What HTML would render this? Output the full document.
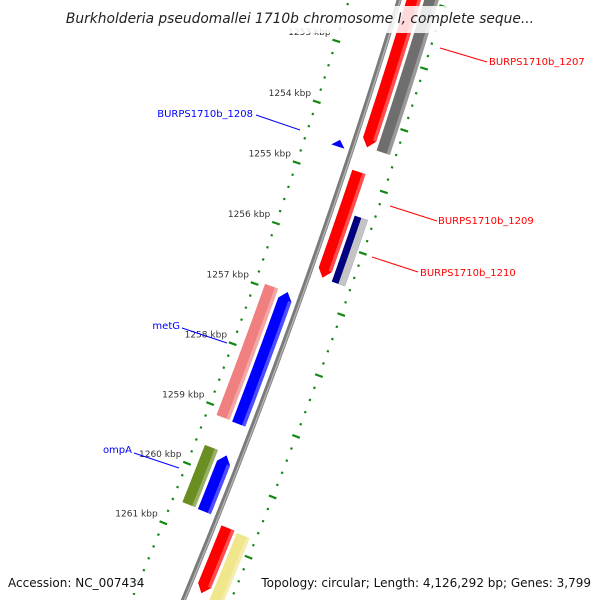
<!DOCTYPE html>
<html><head><meta charset="utf-8"><style>
html,body{margin:0;padding:0;background:#fff;width:600px;height:600px;overflow:hidden;}
#wrap{position:relative;width:600px;height:600px;overflow:hidden;font-family:"DejaVu Sans","Liberation Sans",sans-serif;}
svg{position:absolute;left:0;top:0;}
.title{position:absolute;left:62px;top:6px;width:476px;height:27px;background:rgba(255,255,255,0.85);text-align:center;font-style:italic;font-size:13.8px;line-height:26px;color:#222;white-space:nowrap;overflow:hidden;}
.foot{position:absolute;top:573px;height:20px;background:rgba(255,255,255,0.85);font-size:12px;line-height:20px;color:#111;white-space:nowrap;}
</style></head><body>
<div id="wrap">
<svg id="map" width="600" height="600" viewBox="0 0 600 600" overflow="hidden"></svg>
<div class="title">Burkholderia pseudomallei 1710b chromosome I, complete seque...</div>
<div class="foot" style="left:8px;">Accession: NC_007434</div>
<div class="foot" style="right:9px;">Topology: circular; Length: 4,126,292 bp; Genes: 3,799</div>
</div>
<script>
// data (kbp)
const featNames  = ["BURPS1710b_1207","BURPS1710b_1207-cog","BURPS1710b_1208","BURPS1710b_1209","BURPS1710b_1210","metG-cog","metG","ompA-cog","ompA","next-cds","next-cog"];
const featStart  = [1251.0,1251.0,1254.45,1254.83,1255.49,1256.95,1256.95,1259.63,1259.66,1260.70,1260.72];
const featEnd    = [1254.43,1254.43,1254.56,1256.56,1256.57,1259.13,1259.14,1260.59,1260.60,1261.79,1262.40];
const featStrand = [1,1,-1,1,1,-1,-1,-1,-1,1,1];
const featTrack  = [1,2,1,1,2,2,1,2,1,1,2];
const featColor  = ["#ff0000","#6e6e6e","#0000ff","#ff0000","#000080","#f08080","#0000ff","#6b8e23","#0000ff","#ff0000","#f0e68c"];
const featArrow  = [1,0,1,1,0,0,1,0,1,1,0];
const tickFrom = 1251, tickTo = 1262.4, tickStep = 0.2;
const tickLabels = ["1253 kbp","1254 kbp","1255 kbp","1256 kbp","1257 kbp","1258 kbp","1259 kbp","1260 kbp","1261 kbp"];
const tickLabelKbp = [1253,1254,1255,1256,1257,1258,1259,1260,1261];

const NS="http://www.w3.org/2000/svg";
const svg=document.getElementById('map');
const R=6430, CX=-5752, CY=-1873, A0=108.6*Math.PI/180, PX=64.5;
function pt(k,off){const a=A0+(k-1255)*PX/R;const r=R+off;return [CX+r*Math.sin(a),CY-r*Math.cos(a)];}
function mk(tag,attrs){const e=document.createElementNS(NS,tag);for(const k in attrs)e.setAttribute(k,attrs[k]);svg.appendChild(e);return e;}
function arcPts(k1,k2,off){const n=Math.max(2,Math.ceil(Math.abs(k2-k1)*4));const out=[];for(let i=0;i<=n;i++){out.push(pt(k1+(k2-k1)*i/n,off));}return out;}

// ticks
const nT=Math.round((tickTo-tickFrom)/tickStep);
for(let i=0;i<=nT;i++){
  const k=tickFrom+i*tickStep;
  const major=Math.abs(k-Math.round(k))<1e-6;
  [-48,44].forEach(function(off){
    const h=major?4:1.1;
    const p1=pt(k,off-h),p2=pt(k,off+h);
    const l=mk('line',{x1:p1[0],y1:p1[1],x2:p2[0],y2:p2[1],stroke:'#118811','stroke-width':2.2});
    
    
  });
}
tickLabels.forEach(function(t,i){
  const p=pt(tickLabelKbp[i],-54);
  const tx=mk('text',{x:p[0],y:p[1]-4,'text-anchor':'end','font-size':'9','font-family':'DejaVu Sans, Liberation Sans, sans-serif',fill:'#333'});
  tx.textContent=t;
  
  
});

// backbone
const b1=mk('polyline',{points:arcPts(1250,1263,0).map(p=>p.join(',')).join(' '),fill:'none',stroke:'#7a7a7a','stroke-width':5});


const b2=mk('polyline',{points:arcPts(1250,1263,1).map(p=>p.join(',')).join(' '),fill:'none',stroke:'#b0b0b0','stroke-width':1.5});



// features
featNames.forEach(function(nm,i){
  const s=featStrand[i], tr=featTrack[i];
  const center=s*(tr===1?14:31);
  const w=14, inner=center-w/2, outer=center+w/2;
  let k1=featStart[i],k2=featEnd[i];
  const ah=0.13;
  let poly=[];
  if(featArrow[i]){
    if(s>0){
      const kb=Math.max(k1,k2-ah);
      poly=arcPts(k1,kb,inner).concat([pt(k2,center)]).concat(arcPts(kb,k1,outer));
    }else{
      const kb=Math.min(k2,k1+ah);
      poly=[pt(k1,center)].concat(arcPts(kb,k2,inner)).concat(arcPts(k2,kb,outer));
    }
  }else{
    poly=arcPts(k1,k2,inner).concat(arcPts(k2,k1,outer));
  }
  const g=mk('polygon',{points:poly.map(p=>p.join(',')).join(' '),fill:featColor[i]});
  
  
  const so=outer-3.5;
  const kA=featArrow[i]&&s<0?k1+ah:k1, kB=featArrow[i]&&s>0?k2-ah:k2;
  let stripeColor='rgba(255,255,255,0.3)';
  if(featColor[i]==='#000080') stripeColor='#c4c4c4';
  const sp=arcPts(kA,kB,so-(featColor[i]==='#000080'?3.5:0)).concat(arcPts(kB,kA,outer));
  const st=mk('polygon',{points:sp.map(p=>p.join(',')).join(' '),fill:stripeColor});
  
  
});

// labels
const labels=[
 ["BURPS1710b_1207",489,65,"start","#ff0000",[440,48,487,62]],
 ["BURPS1710b_1208",253,117,"end","#0000ff",[256,115,300,130]],
 ["BURPS1710b_1209",438,224,"start","#ff0000",[390,206,437,221]],
 ["BURPS1710b_1210",420,276,"start","#ff0000",[372,257,418,272]],
 ["metG",180,329,"end","#0000ff",[182,328,227,343]],
 ["ompA",132,453,"end","#0000ff",[134,453,179,468]]
];
labels.forEach(function(L){
  const ln=mk('line',{x1:L[5][0],y1:L[5][1],x2:L[5][2],y2:L[5][3],stroke:L[4],'stroke-width':1});
  
  
  const t=mk('text',{x:L[1],y:L[2],'text-anchor':L[3],'font-size':'10','font-family':'DejaVu Sans, Liberation Sans, sans-serif',fill:L[4]});
  t.textContent=L[0];
  
  
});
</script>
</body></html>
